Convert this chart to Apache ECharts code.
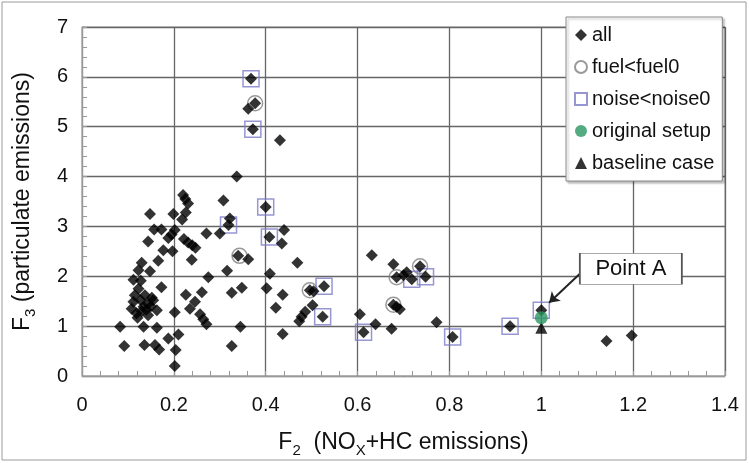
<!DOCTYPE html>
<html>
<head>
<meta charset="utf-8">
<script src="https://cdn.jsdelivr.net/npm/echarts@6/dist/echarts.min.js"></script>
<style>
  html, body { margin: 0; padding: 0; background: #fff; }
  #chart { width: 749px; height: 463px; }
</style>
</head>
<body>
<div id="chart"></div>
<script>
// F2 / F3 values
const allPoints = [
  [0.368, 5.96], [0.362, 5.36], [0.377, 5.47], [0.372, 4.95], [0.431, 4.73], [0.337, 4.0],
  [0.220, 3.63], [0.225, 3.55], [0.231, 3.46], [0.226, 3.28], [0.218, 3.14],
  [0.148, 3.25], [0.199, 3.25], [0.157, 2.94], [0.173, 2.94], [0.202, 2.93], [0.195, 2.84], [0.188, 2.77],
  [0.144, 2.70], [0.222, 2.75], [0.231, 2.68], [0.240, 2.62], [0.247, 2.57],
  [0.177, 2.52], [0.197, 2.50], [0.239, 2.33], [0.166, 2.31],
  [0.130, 2.27], [0.123, 2.12], [0.148, 2.10], [0.112, 1.93], [0.128, 1.91],
  [0.275, 1.98], [0.271, 2.86], [0.300, 2.86], [0.308, 3.52], [0.322, 3.16], [0.319, 3.03],
  [0.400, 3.39], [0.408, 2.79], [0.440, 2.93], [0.435, 2.66],
  [0.340, 2.41], [0.362, 2.34], [0.469, 2.27], [0.316, 2.11], [0.409, 2.05],
  [0.527, 1.80], [0.326, 1.67], [0.348, 1.77], [0.402, 1.76], [0.437, 1.63], [0.422, 1.37],
  [0.496, 1.72], [0.504, 1.70], [0.502, 1.42], [0.486, 1.29], [0.478, 1.19], [0.473, 1.10], [0.524, 1.19],
  [0.345, 0.99], [0.437, 0.84], [0.326, 0.60],
  [0.123, 1.75], [0.115, 1.62], [0.112, 1.49], [0.108, 1.35], [0.119, 1.26], [0.121, 1.17],
  [0.134, 1.39], [0.144, 1.45], [0.155, 1.52], [0.163, 1.32], [0.144, 1.22], [0.152, 1.57],
  [0.173, 1.78], [0.137, 1.62], [0.128, 1.52], [0.130, 1.30], [0.140, 1.33], [0.150, 1.40],
  [0.202, 1.28], [0.226, 1.63], [0.261, 1.68], [0.246, 1.49], [0.235, 1.35], [0.257, 1.24],
  [0.264, 1.14], [0.271, 1.04],
  [0.083, 0.99], [0.134, 0.99], [0.163, 0.97], [0.210, 0.83], [0.188, 0.75],
  [0.092, 0.60], [0.136, 0.62], [0.159, 0.62], [0.168, 0.53], [0.204, 0.52], [0.202, 0.20],
  [0.605, 1.24], [0.613, 0.88], [0.639, 1.04], [0.674, 0.95], [0.631, 2.42], [0.678, 2.24],
  [0.685, 1.98], [0.718, 1.94], [0.707, 2.08], [0.700, 2.02], [0.736, 2.20], [0.748, 1.99],
  [0.678, 1.43], [0.685, 1.39], [0.692, 1.34], [0.772, 1.08], [0.807, 0.78], [0.932, 1.00],
  [1.000, 1.32], [1.142, 0.70], [1.197, 0.81]
];
const fuelPoints = [[0.377, 5.47], [0.343, 2.41], [0.496, 1.72], [0.685, 1.98], [0.736, 2.20], [0.678, 1.43]];
const noisePoints = [
  [0.368, 5.96], [0.372, 4.95], [0.319, 3.03], [0.400, 3.39], [0.408, 2.79], [0.527, 1.80],
  [0.524, 1.19], [0.613, 0.88], [0.718, 1.94], [0.748, 1.99], [0.807, 0.78], [0.932, 1.00], [1.000, 1.32]
];
const originalPoints = [[1.0, 1.17]];
const baselinePoints = [[1.0, 0.97]];
const seriesNames = ['all', 'fuel<fuel0', 'noise<noise0', 'original setup', 'baseline case'];

const font = 'Liberation Sans, Arial, sans-serif';
const myChart = echarts.init(document.getElementById('chart'));

const option = {
  animation: false,
  textStyle: { fontFamily: font },
  graphic: [{
    type: 'rect',
    shape: { x: 2, y: 2, width: 744, height: 458 },
    style: { fill: 'none', stroke: '#9a9a9a', lineWidth: 1 },
    silent: true
  }],
  grid: {
    left: 82, right: 24, top: 27, bottom: 81,
    show: true, borderColor: '#999', borderWidth: 1
  },
  legend: {
    data: seriesNames,
    orient: 'vertical',
    left: 566, top: 17,
    padding: [8, 8, 8, 8],
    itemGap: 12,
    itemWidth: 12, itemHeight: 12,
    backgroundColor: '#fff',
    borderColor: '#888', borderWidth: 1,
    shadowColor: 'rgba(0,0,0,0.25)', shadowBlur: 2, shadowOffsetX: 2, shadowOffsetY: 2,
    textStyle: { fontSize: 20, color: '#111', fontFamily: font }
  },
  xAxis: {
    type: 'value', min: 0, max: 1.4, interval: 0.2,
    name: '{a|F}{s|2}{a|  (NO}{s|X}{a|+HC emissions)}',
    nameLocation: 'middle', nameGap: 52,
    nameTextStyle: {
      rich: {
        a: { fontSize: 23, lineHeight: 30, color: '#111', fontFamily: font },
        s: { fontSize: 15, lineHeight: 14, verticalAlign: 'bottom', color: '#111', fontFamily: font }
      }
    },
    axisLine: { show: true, lineStyle: { color: '#999' } },
    axisTick: { show: true, inside: true, length: 5, lineStyle: { color: '#999' } },
    minorTick: { show: true, splitNumber: 5, length: 5, lineStyle: { color: '#999' } },
    axisLabel: { fontSize: 20, color: '#111', margin: 19 },
    splitLine: { show: true, lineStyle: { color: '#666', width: 1.3 } }
  },
  yAxis: {
    type: 'value', min: 0, max: 7, interval: 1,
    name: '{a|F}{s|3}{a| (particulate emissions)}',
    nameLocation: 'middle', nameGap: 44,
    nameTextStyle: {
      rich: {
        a: { fontSize: 23, lineHeight: 30, color: '#111', fontFamily: font },
        s: { fontSize: 15, lineHeight: 14, verticalAlign: 'bottom', color: '#111', fontFamily: font }
      }
    },
    axisLine: { show: true, lineStyle: { color: '#999' } },
    axisTick: { show: true, inside: true, length: 5, lineStyle: { color: '#999' } },
    minorTick: { show: true, splitNumber: 5, length: 5, lineStyle: { color: '#999' } },
    axisLabel: { fontSize: 20, color: '#111', margin: 14 },
    splitLine: { show: true, lineStyle: { color: '#666', width: 1.3 } }
  },
  series: [
    {
      name: 'all', type: 'scatter', data: allPoints, z: 5,
      symbol: 'diamond', symbolSize: 12,
      itemStyle: { color: '#000' }
    },
    {
      name: 'fuel<fuel0', type: 'scatter', data: fuelPoints, z: 3,
      symbol: 'circle', symbolSize: 15,
      itemStyle: { color: 'rgba(255,255,255,0)', borderColor: '#808080', borderWidth: 1.5 }
    },
    {
      name: 'noise<noise0', type: 'scatter', data: noisePoints, z: 3,
      symbol: 'rect', symbolSize: 16,
      itemStyle: { color: 'rgba(255,255,255,0)', borderColor: '#7c7cc8', borderWidth: 1.5 }
    },
    {
      name: 'original setup', type: 'scatter', data: originalPoints, z: 6,
      symbol: 'circle', symbolSize: 13,
      itemStyle: { color: '#2a9662' }
    },
    {
      name: 'baseline case', type: 'scatter', data: baselinePoints, z: 4,
      symbol: 'triangle', symbolSize: 12,
      itemStyle: { color: '#000' }
    },
    {
      name: 'pointA', type: 'scatter', data: [], z: 7, silent: true,
      markLine: {
        silent: true, animation: false,
        symbol: ['none', 'arrow'], symbolSize: 10,
        lineStyle: { color: '#222', width: 2, type: 'solid' },
        label: { show: false },
        data: [[{ coord: [1.084, 2.05] }, { coord: [1.017, 1.47] }]]
      },
      markPoint: {
        silent: true, animation: false,
        symbol: 'rect', symbolSize: [102, 31],
        itemStyle: { color: '#fff', borderColor: '#555', borderWidth: 1 },
        label: { show: true, position: 'inside', formatter: 'Point A', fontSize: 22, color: '#111' },
        data: [{ coord: [1.195, 2.15] }]
      }
    }
  ]
};

myChart.setOption(option);
</script>
</body>
</html>
